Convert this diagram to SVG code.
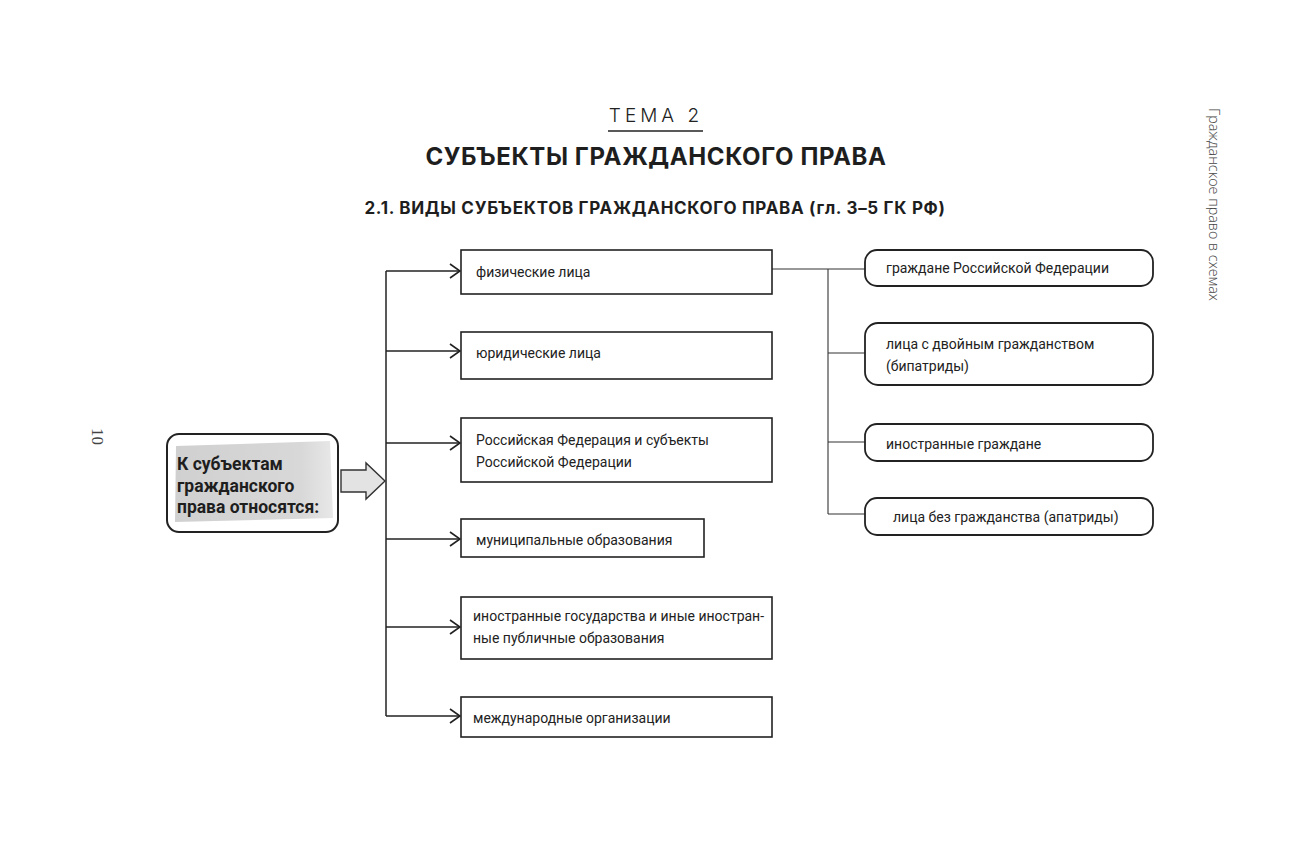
<svg xmlns="http://www.w3.org/2000/svg" width="1312" height="845" viewBox="0 0 1312 845">
<style>
.bg{fill:#fff}
.box{fill:#fff;stroke:#222;stroke-width:1.6}
.rbox{fill:#fff;stroke:#222;stroke-width:1.8}
.t{font-family:Roboto,"Liberation Sans",sans-serif;font-size:14px;fill:#222}
.line{stroke:#222;stroke-width:1.5;fill:none}
.thin{stroke:#333;stroke-width:1.1;fill:none}
.h1{font-family:Inter,"Open Sans",sans-serif;font-weight:700;font-size:24px;letter-spacing:0.6px;fill:#1e1e1e}
.h2{font-family:Inter,"Open Sans",sans-serif;font-weight:700;font-size:17px;letter-spacing:0.7px;fill:#1e1e1e}
.tema{font-family:Inter,"Open Sans",sans-serif;font-weight:300;font-size:19px;letter-spacing:4px;fill:#222}
.side{font-family:"Open Sans","Liberation Sans",sans-serif;font-weight:300;font-size:14.3px;fill:#444}
.pg{font-family:"Liberation Serif",serif;font-size:17px;fill:#444}
.lead{font-family:Roboto,"Liberation Sans",sans-serif;font-weight:700;font-size:17.5px;fill:#1e1e1e}
</style>
<defs>
<marker id="ah" viewBox="0 0 12 16" refX="11" refY="8" markerWidth="12" markerHeight="16" markerUnits="userSpaceOnUse" orient="auto">
<path d="M1,1 L11,8 L1,15" fill="none" stroke="#222" stroke-width="1.6"/>
</marker>
<linearGradient id="brush" x1="0" y1="0" x2="1" y2="0">
<stop offset="0" stop-color="#d0d0d0"/>
<stop offset="0.8" stop-color="#d8d8d8"/>
<stop offset="1" stop-color="#e8e8e8"/>
</linearGradient>
</defs>
<rect class="bg" x="0" y="0" width="1312" height="845"/>

<g id="titles">
<text class="tema" x="656" y="122" text-anchor="middle">ТЕМА 2</text>
<line x1="608" y1="131" x2="703" y2="131" stroke="#222" stroke-width="1.3"/>
<text class="h1" x="656" y="165" text-anchor="middle">СУБЪЕКТЫ ГРАЖДАНСКОГО ПРАВА</text>
<text class="h2" x="655" y="214" text-anchor="middle">2.1. ВИДЫ СУБЪЕКТОВ ГРАЖДАНСКОГО ПРАВА (гл. 3–5 ГК РФ)</text>
<text class="side" transform="translate(1209,108) rotate(90)">Гражданское право в схемах</text>
<text class="pg" transform="translate(92,428) rotate(90)">10</text>
</g>

<g id="connectors">
<line class="line" x1="386" y1="271" x2="386" y2="716"/>
<line class="line" x1="386" y1="271" x2="460" y2="271" marker-end="url(#ah)"/>
<line class="line" x1="386" y1="351" x2="460" y2="351" marker-end="url(#ah)"/>
<line class="line" x1="386" y1="443" x2="460" y2="443" marker-end="url(#ah)"/>
<line class="line" x1="386" y1="539" x2="460" y2="539" marker-end="url(#ah)"/>
<line class="line" x1="386" y1="627" x2="460" y2="627" marker-end="url(#ah)"/>
<line class="line" x1="386" y1="716" x2="460" y2="716" marker-end="url(#ah)"/>
<line class="thin" x1="772" y1="269" x2="865" y2="269"/>
<line class="thin" x1="828" y1="269" x2="828" y2="514"/>
<line class="thin" x1="828" y1="353" x2="865" y2="353"/>
<line class="thin" x1="828" y1="442" x2="865" y2="442"/>
<line class="thin" x1="828" y1="514" x2="865" y2="514"/>
</g>

<g id="lead">
<rect x="167" y="434" width="171" height="98" rx="12" fill="#fff" stroke="#222" stroke-width="2"/>
<path d="M176,446 L330,441 L333,518 L175,522 Z" fill="url(#brush)"/>
<text class="lead" x="177" y="470">К субъектам</text>
<text class="lead" x="177" y="492">гражданского</text>
<text class="lead" x="177" y="513">права относятся:</text>
</g>

<g id="block-arrow">
<path d="M341,470 L366,470 L366,463 L385,481 L366,499 L366,492 L341,492 Z" fill="#e3e3e3" stroke="#333" stroke-width="1.4"/>
</g>

<g id="n1">
<rect class="box" x="461" y="250" width="311" height="44"/>
<text class="t" x="476" y="277">физические лица</text>
</g>
<g id="n2">
<rect class="box" x="461" y="332" width="311" height="47"/>
<text class="t" x="476" y="358">юридические лица</text>
</g>
<g id="n3">
<rect class="box" x="461" y="418" width="311" height="64"/>
<text class="t" x="476" y="445">Российская Федерация и субъекты</text>
<text class="t" x="476" y="467">Российской Федерации</text>
</g>
<g id="n4">
<rect class="box" x="461" y="519" width="243" height="38"/>
<text class="t" x="476" y="545">муниципальные образования</text>
</g>
<g id="n5">
<rect class="box" x="461" y="597" width="311" height="62"/>
<text class="t" x="473" y="621">иностранные государства и иные иностран-</text>
<text class="t" x="473" y="643">ные публичные образования</text>
</g>
<g id="n6">
<rect class="box" x="461" y="697" width="311" height="40"/>
<text class="t" x="473" y="723">международные организации</text>
</g>

<g id="r1">
<rect class="rbox" x="865" y="250" width="288" height="36" rx="12"/>
<text class="t" x="886" y="273">граждане Российской Федерации</text>
</g>
<g id="r2">
<rect class="rbox" x="865" y="323" width="288" height="62" rx="13"/>
<text class="t" x="886" y="349">лица с двойным гражданством</text>
<text class="t" x="886" y="371">(бипатриды)</text>
</g>
<g id="r3">
<rect class="rbox" x="865" y="424" width="288" height="37" rx="12"/>
<text class="t" x="886" y="449">иностранные граждане</text>
</g>
<g id="r4">
<rect class="rbox" x="865" y="498" width="288" height="37" rx="12"/>
<text class="t" x="893" y="522">лица без гражданства (апатриды)</text>
</g>
</svg>
